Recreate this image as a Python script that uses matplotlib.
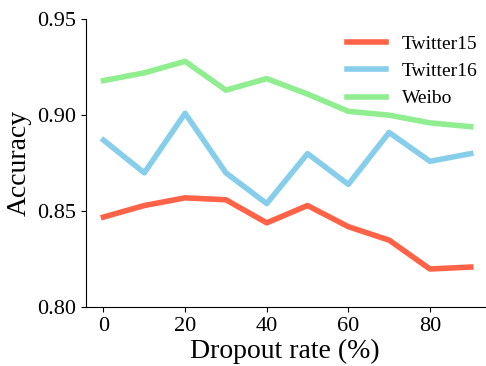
import numpy as np
import matplotlib.pyplot as plt

plt.rcParams['font.family'] = 'serif'
plt.rcParams['font.serif'] = ['Liberation Serif', 'DejaVu Serif']

rates = [0, 10, 20, 30, 40, 50, 60, 70, 80, 90]
twitter15 = [0.847, 0.853, 0.857, 0.856, 0.844, 0.853, 0.842, 0.835, 0.820, 0.821]
twitter16 = [0.887, 0.870, 0.901, 0.870, 0.854, 0.880, 0.864, 0.891, 0.876, 0.880]
weibo = [0.918, 0.922, 0.928, 0.913, 0.919, 0.911, 0.902, 0.900, 0.896, 0.894]

fig = plt.figure(figsize=(4.86, 3.66), dpi=100)
ax = fig.add_axes([0.176, 0.160, 0.822, 0.788])

ax.plot(rates, twitter15, color='tomato', lw=4, label='Twitter15')
ax.plot(rates, twitter16, color='skyblue', lw=4, label='Twitter16')
ax.plot(rates, weibo, color='lightgreen', lw=4, label='Weibo')

ax.set_ylim(0.80, 0.95)
ax.set_yticks([0.80, 0.85, 0.90, 0.95])
ax.set_xlim(-4.4, 93.5)
ax.set_xticks([0, 20, 40, 60, 80])
ax.tick_params(labelsize=16)
ax.set_xlabel('Dropout rate (%)', fontsize=20, labelpad=2)
ax.set_ylabel('Accuracy', fontsize=20, labelpad=4)
ax.spines['top'].set_visible(False)
ax.spines['right'].set_visible(False)
ax.legend(frameon=False, fontsize=14, loc='upper right', bbox_to_anchor=(1.025, 1.005))

plt.savefig('out.png', dpi=100)
